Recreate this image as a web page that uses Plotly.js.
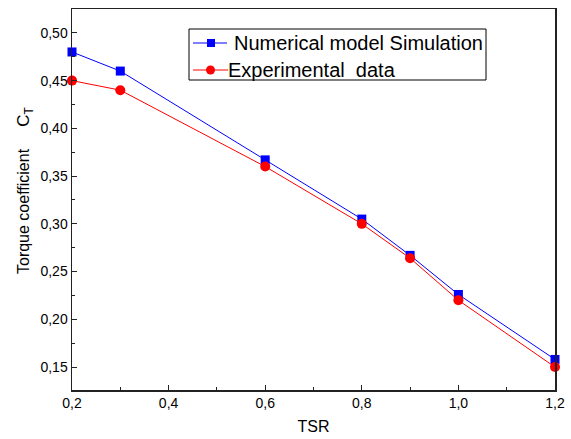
<!DOCTYPE html>
<html><head><meta charset="utf-8">
<script src="https://cdn.plot.ly/plotly-3.0.1.min.js"></script>
<style>html,body{margin:0;padding:0;background:#fff}#c{width:571px;height:439px}</style>
</head><body><div id="c"></div>
<script>
const tsr = [0.2, 0.3, 0.6, 0.8, 0.9, 1.0, 1.2];
const numerical = [0.480, 0.460, 0.367, 0.305, 0.267, 0.226, 0.158];
const experimental = [0.450, 0.440, 0.360, 0.300, 0.264, 0.220, 0.150];
const seriesNames = ['Numerical model Simulation', 'Experimental\u00a0\u00a0data'];
const colors = ['#0000ff', '#ff0000'];
const xTitle = 'TSR';
const yTitle = 'Torque coefficient\u00a0\u00a0\u00a0\u00a0\u00a0<span style="font-size:17px">C<sub>T</sub></span>';

const traces = [
  {x: tsr, y: numerical, name: seriesNames[0], mode: 'lines+markers', cliponaxis: false,
   line: {color: colors[0], width: 1}, marker: {symbol: 'square', size: 9, color: colors[0]}},
  {x: tsr, y: experimental, name: seriesNames[1], mode: 'lines+markers', cliponaxis: false,
   line: {color: colors[1], width: 1}, marker: {symbol: 'circle', size: 10, color: colors[1]}}
];

// plot area in pixels: x 72..555, y 9..390 -> convert pixel positions to paper fractions
const M = {l: 72, r: 16, t: 9, b: 49}, W = 571, H = 439;
const pw = W - M.l - M.r, ph = H - M.t - M.b;
const px = v => (v - M.l) / pw;
const py = v => (H - M.b - v) / ph;

const fontF = 'Liberation Sans, Arial, sans-serif';
const shapes = [
  {type: 'rect', xref: 'paper', yref: 'paper', x0: px(189), x1: px(486), y0: py(80), y1: py(29),
   line: {color: '#000', width: 1}, fillcolor: '#fff', layer: 'above'},
  {type: 'line', xref: 'paper', yref: 'paper', x0: px(193), x1: px(227), y0: py(43), y1: py(43),
   line: {color: colors[0], width: 1}, layer: 'above'},
  {type: 'rect', xref: 'paper', yref: 'paper', x0: px(207), x1: px(215), y0: py(47), y1: py(39),
   line: {width: 0}, fillcolor: colors[0], layer: 'above'},
  {type: 'line', xref: 'paper', yref: 'paper', x0: px(193), x1: px(228), y0: py(70), y1: py(70),
   line: {color: colors[1], width: 1}, layer: 'above'},
  {type: 'circle', xref: 'paper', yref: 'paper', x0: px(206), x1: px(215), y0: py(74.5), y1: py(65.5),
   line: {width: 0}, fillcolor: colors[1], layer: 'above'}
];
const annotations = [
  {xref: 'paper', yref: 'paper', x: px(232), y: py(43), xanchor: 'left', yanchor: 'middle',
   text: seriesNames[0], showarrow: false, font: {size: 20, family: fontF, color: '#000'}},
  {xref: 'paper', yref: 'paper', x: px(226), y: py(70), xanchor: 'left', yanchor: 'middle',
   text: seriesNames[1], showarrow: false, font: {size: 20, family: fontF, color: '#000'}},
  {xref: 'paper', yref: 'paper', x: px(25), y: py(191), xanchor: 'center', yanchor: 'middle',
   textangle: -90, text: yTitle, showarrow: false, font: {size: 16, family: fontF, color: '#000'}}
];

const layout = {
  width: W, height: H,
  margin: M,
  separators: ',.',
  paper_bgcolor: '#fff', plot_bgcolor: '#fff',
  font: {family: fontF, color: '#000', size: 14},
  showlegend: false,
  shapes: shapes,
  annotations: annotations,
  xaxis: {range: [0.2, 1.2], dtick: 0.2, tickformat: '.1f', ticks: 'inside', ticklen: 5,
    tickfont: {size: 14}, tickcolor: '#222', showline: true, linecolor: '#222', linewidth: 1.5, mirror: true,
    showgrid: false, zeroline: false,
    minor: {dtick: 0.1, ticks: 'inside', ticklen: 3, tickcolor: '#222', showgrid: false},
    title: {text: xTitle, font: {size: 16}, standoff: 10}},
  yaxis: {range: [0.126, 0.525], dtick: 0.05, tick0: 0.15, tickformat: '.2f', ticks: 'inside', ticklen: 5,
    tickfont: {size: 14}, tickcolor: '#222', showline: true, linecolor: '#222', linewidth: 1.5, mirror: true,
    showgrid: false, zeroline: false,
    minor: {dtick: 0.025, ticks: 'inside', ticklen: 3, tickcolor: '#222', showgrid: false}}
};
Plotly.newPlot('c', traces, layout, {displayModeBar: false, staticPlot: true});
</script></body></html>
